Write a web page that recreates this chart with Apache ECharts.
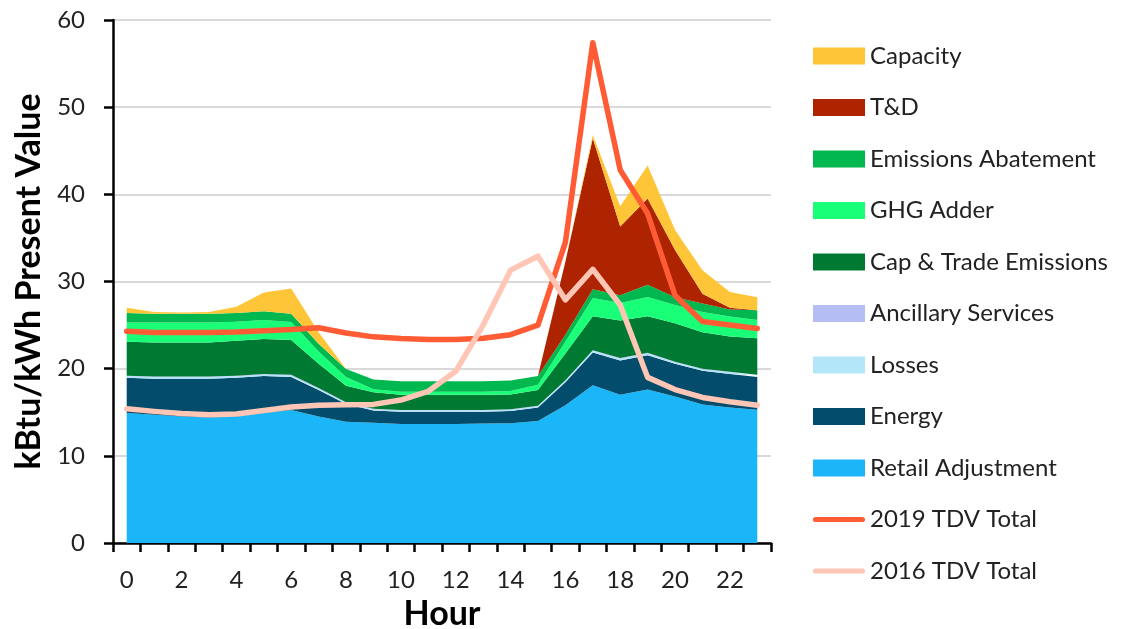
<!DOCTYPE html>
<html>
<head>
<meta charset="utf-8">
<script src="https://cdn.jsdelivr.net/npm/echarts@6/dist/echarts.min.js"></script>
<style>
html,body{margin:0;padding:0;background:#fff;}
#chart{width:1141px;height:629px;}
</style>
</head>
<body>
<div id="chart"></div>
<script>
var hours = ['0','1','2','3','4','5','6','7','8','9','10','11','12','13','14','15','16','17','18','19','20','21','22','23'];

var retailAdjustment = [14.9,14.7,14.5,14.4,14.5,14.9,15.25,14.5,13.9,13.8,13.65,13.65,13.65,13.7,13.75,14.0,15.8,18.1,17.0,17.6,16.8,15.9,15.55,15.3];
var energy = [4.05,4.15,4.35,4.45,4.45,4.25,3.8,3.05,2.05,1.4,1.4,1.4,1.4,1.35,1.4,1.55,2.65,3.75,3.95,3.95,3.75,3.85,3.85,3.75];
var losses = [0.18,0.18,0.18,0.18,0.18,0.18,0.18,0.16,0.15,0.15,0.15,0.15,0.15,0.15,0.15,0.15,0.17,0.2,0.2,0.2,0.19,0.18,0.18,0.18];
var ancillary = [0.06,0.06,0.06,0.06,0.06,0.06,0.06,0.06,0.05,0.05,0.05,0.05,0.05,0.05,0.05,0.05,0.06,0.07,0.07,0.07,0.06,0.06,0.06,0.06];
var capTrade = [3.9,3.9,3.9,3.9,4.0,4.0,4.0,2.8,1.9,1.9,1.75,1.75,1.75,1.75,1.7,1.8,3.05,3.9,4.3,4.2,4.4,4.2,4.05,4.2];
var ghgAdder = [2.2,2.3,2.3,2.3,2.2,2.2,2.05,1.4,1.0,0.35,0.35,0.35,0.35,0.35,0.4,0.6,1.35,2.1,2.0,2.2,2.1,2.3,2.3,2.1];
var emissionsAbatement = [1.1,1.0,1.0,1.0,1.0,1.0,0.95,0.9,0.9,1.1,1.2,1.2,1.2,1.2,1.2,1.0,0.8,1.0,0.9,1.4,0.9,1.0,0.8,1.1];
var tnd = [0,0,0,0,0,0,0,0,0,0,0,0,0,0,0,0,8.4,17.3,7.9,9.9,5.4,1.1,0.2,0];
var capacity = [0.6,0.2,0.15,0.2,0.7,2.15,2.9,1.3,0,0,0,0,0,0,0,0,0,0.4,2.3,3.8,2.3,2.7,1.8,1.5];

var tdv2019 = [24.3,24.15,24.15,24.15,24.2,24.35,24.5,24.7,24.1,23.65,23.45,23.35,23.35,23.5,23.9,25.0,34.5,57.4,42.8,37.8,28.4,25.4,25.0,24.6];
var tdv2016 = [15.4,15.1,14.85,14.7,14.8,15.2,15.6,15.8,15.85,15.9,16.4,17.4,19.7,25.0,31.3,32.9,27.9,31.4,27.3,19.0,17.6,16.7,16.2,15.8];

var yTicks = [0,10,20,30,40,50,60];

var FONT = 'Lato, "Open Sans", sans-serif';
var TXT = '#222222';

function area(name, data, color) {
  return {
    name: name, type: 'line', stack: 'total', data: data,
    symbol: 'none', smooth: false,
    lineStyle: {width: 0, color: color},
    itemStyle: {color: color},
    areaStyle: {color: color, opacity: 1},
    emphasis: {disabled: true}, z: 2
  };
}
function line(name, data, color) {
  return {
    name: name, type: 'line', data: data, symbol: 'none',
    lineStyle: {width: 5.5, color: color, cap: 'round', join: 'round'},
    itemStyle: {color: color},
    emphasis: {disabled: true}, z: 5
  };
}

var C = {
  capacity: '#FFC539', tnd: '#AE2300', ea: '#00B84F', ghg: '#1AFF78', ct: '#007A33',
  anc: '#B4BEF5', loss: '#B4E6FA', energy: '#034C6C', retail: '#1AB6F8',
  l2019: '#FF5B35', l2016: '#FFC5B5'
};

var lineIcon = 'path://M5,0 L95,0 A5,5 0 0 1 95,10 L5,10 A5,5 0 0 1 5,0 Z';

var chart = echarts.init(document.getElementById('chart'), null, {renderer: 'canvas'});
chart.setOption({
  animation: false,
  backgroundColor: '#ffffff',
  grid: {left: 113, right: 370, top: 20, bottom: 86, containLabel: false, outerBoundsMode: 'none'},
  legend: {
    orient: 'vertical', left: 808, top: 39,
    itemWidth: 52, itemHeight: 17, itemGap: 27.5,
    textStyle: {fontFamily: FONT, fontSize: 24, color: TXT, lineHeight: 24},
    selectedMode: false,
    data: [
      {name: 'Capacity', icon: 'rect'},
      {name: 'T&D', icon: 'rect'},
      {name: 'Emissions Abatement', icon: 'rect'},
      {name: 'GHG Adder', icon: 'rect'},
      {name: 'Cap & Trade Emissions', icon: 'rect'},
      {name: 'Ancillary Services', icon: 'rect'},
      {name: 'Losses', icon: 'rect'},
      {name: 'Energy', icon: 'rect'},
      {name: 'Retail Adjustment', icon: 'rect'},
      {name: '2019 TDV Total', icon: lineIcon},
      {name: '2016 TDV Total', icon: lineIcon}
    ]
  },
  xAxis: {
    type: 'category', data: hours, boundaryGap: true,
    name: 'Hour', nameLocation: 'middle', nameGap: 50,
    nameTextStyle: {fontFamily: FONT, fontSize: 34, fontWeight: 'bold', color: '#000'},
    axisLine: {lineStyle: {color: '#000', width: 2.5}},
    axisTick: {show: true, alignWithLabel: false, interval: 0, length: 9, lineStyle: {color: '#000', width: 2.5}},
    axisLabel: {interval: 1, fontFamily: FONT, fontSize: 24, color: TXT, margin: 25},
    splitLine: {show: false}
  },
  yAxis: {
    type: 'value', min: 0, max: 60, interval: 10,
    name: 'kBtu/kWh Present Value', nameLocation: 'middle', nameGap: 67, nameRotate: 90,
    nameTextStyle: {fontFamily: FONT, fontSize: 34, fontWeight: 'bold', color: '#000'},
    axisLine: {show: true, lineStyle: {color: '#000', width: 2.5}},
    axisTick: {show: true, length: 9, lineStyle: {color: '#000', width: 2.5}},
    axisLabel: {fontFamily: FONT, fontSize: 24, color: TXT, margin: 28,
      formatter: function (v) { return yTicks.indexOf(v) >= 0 ? String(v) : ''; }},
    splitLine: {show: true, lineStyle: {color: '#D9D9D9', width: 2}}
  },
  series: [
    area('Retail Adjustment', retailAdjustment, C.retail),
    area('Energy', energy, C.energy),
    area('Losses', losses, C.loss),
    area('Ancillary Services', ancillary, C.anc),
    area('Cap & Trade Emissions', capTrade, C.ct),
    area('GHG Adder', ghgAdder, C.ghg),
    area('Emissions Abatement', emissionsAbatement, C.ea),
    area('T&D', tnd, C.tnd),
    area('Capacity', capacity, C.capacity),
    line('2019 TDV Total', tdv2019, C.l2019),
    line('2016 TDV Total', tdv2016, C.l2016)
  ]
});
</script>
</body>
</html>
